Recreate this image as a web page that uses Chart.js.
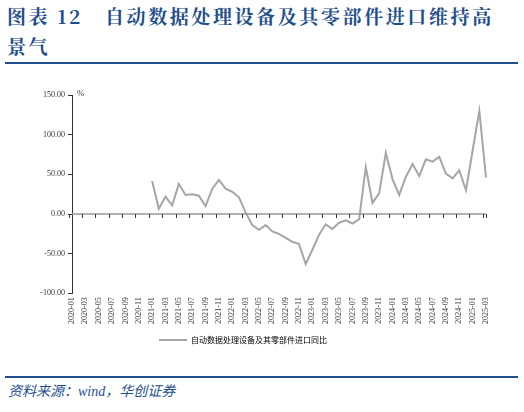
<!DOCTYPE html>
<html><head><meta charset="utf-8">
<script src="https://cdn.jsdelivr.net/npm/chart.js@4"></script>
<style>
body{margin:0;width:524px;height:412px;background:#fff;position:relative;overflow:hidden;font-family:"Noto Sans CJK SC",serif}
#t{position:absolute;left:7px;top:1px;width:505px;color:#1F4E8C;font-weight:bold;font-size:19px;line-height:30px;font-family:"Noto Serif CJK SC","Noto Sans CJK SC",serif;letter-spacing:2.6px}
.ln{position:absolute;left:5px;width:513px;height:2px;background:#1F4E8C}
#s{position:absolute;left:8px;top:380px;color:#1F4E8C;font-size:14px;font-style:italic;font-family:"Noto Sans CJK SC",serif}
#c{position:absolute;left:0;top:86px}
</style></head><body>
<div id="t">图表 12&nbsp;&nbsp;&nbsp;自动数据处理设备及其零部件进口维持高景气</div>
<div class="ln" style="top:62px"></div>
<div class="ln" style="top:376px"></div>
<div id="s">资料来源：<span style="font-family:'Liberation Serif'">wind</span>，华创证券</div>
<canvas id="c" width="524" height="268"></canvas>
<script>
const seriesName = "自动数据处理设备及其零部件进口同比";
const startYear = 2020, endYear = 2025, endMonth = 3;
const categories = [];
for (let y = startYear; y <= endYear; y++) for (let m = 1; m <= 12; m++) {
  if (y === endYear && m > endMonth) break;
  categories.push(y + "-" + String(m).padStart(2, "0"));
}
const values2020 = new Array(12).fill(null);
const valuesFrom2021 = [41.6,6.5,22,11,38,24,25,23,10,31.6,43,32,28,21,2,-14,-20,-14,-22,-25,-30,-35,-38,-63,-45,-26,-13,-19,-11,-8,-12,-6.5,59,14,26,77,44,24,47,63,48,69,66,72,51,45,55,30,80,130,46];
const values = values2020.concat(valuesFrom2021);
const yTicks = [-100,-50,0,50,100,150];

const extras = {
  id:'extras',
  afterDraw(ch){
    const c=ch.ctx, xs=ch.scales.x, ys=ch.scales.y, y0=ys.getPixelForValue(0);
    c.save();
    c.strokeStyle='#999'; c.lineWidth=1.5;
    c.beginPath(); c.moveTo(ch.chartArea.left,y0); c.lineTo(ch.chartArea.right,y0); c.stroke();
    c.strokeStyle='#333'; c.lineWidth=1;
    c.beginPath();
    for(let i=0;i<categories.length;i+=2){const x=Math.round(xs.getPixelForValue(i)-3.3)+0.5;c.moveTo(x,y0);c.lineTo(x,y0+4);}
    const xr=Math.round(ch.chartArea.right)+0.5; c.moveTo(xr,y0);c.lineTo(xr,y0+4);
    c.stroke();
    c.fillStyle='#333'; c.font='9px "Liberation Serif"'; c.textBaseline='bottom';
    c.fillText('%', ch.chartArea.left+5, ch.chartArea.top+3);
    c.restore();
  }
};

new Chart(document.getElementById('c'),{
  type:'line',
  data:{labels:categories,datasets:[{label:seriesName,data:values,borderColor:'#A6A6A6',borderWidth:2,pointRadius:0,tension:0,spanGaps:false}]},
  options:{
    responsive:false,animation:false,
    layout:{padding:{top:9,right:38,left:0,bottom:0}},
    plugins:{legend:{position:'bottom',labels:{boxWidth:28,boxHeight:0,color:'#333',font:{size:8,family:'"Noto Sans CJK SC"'},padding:8,
      generateLabels(ch){return [{text:seriesName,strokeStyle:'#A6A6A6',fillStyle:'#A6A6A6',lineWidth:2}];}}},tooltip:{enabled:false}},
    scales:{
      x:{grid:{display:false,drawTicks:false},border:{display:false},
        ticks:{autoSkip:false,maxRotation:90,minRotation:90,padding:4,color:'#333',font:{size:8,family:'"Liberation Serif"'},
          callback:(v,i)=>i%2===0?categories[i]:''}},
      y:{min:-100,max:150,afterFit(s){s.width=72;},
        afterBuildTicks(s){s.ticks=yTicks.map(v=>({value:v}));},
        grid:{drawOnChartArea:false,tickLength:4,color:'#333'},border:{color:'#333'},
        ticks:{color:'#333',font:{size:8,family:'"Liberation Serif"'},callback:v=>v.toFixed(2)}}
    }
  },
  plugins:[extras]
});
</script></body></html>
